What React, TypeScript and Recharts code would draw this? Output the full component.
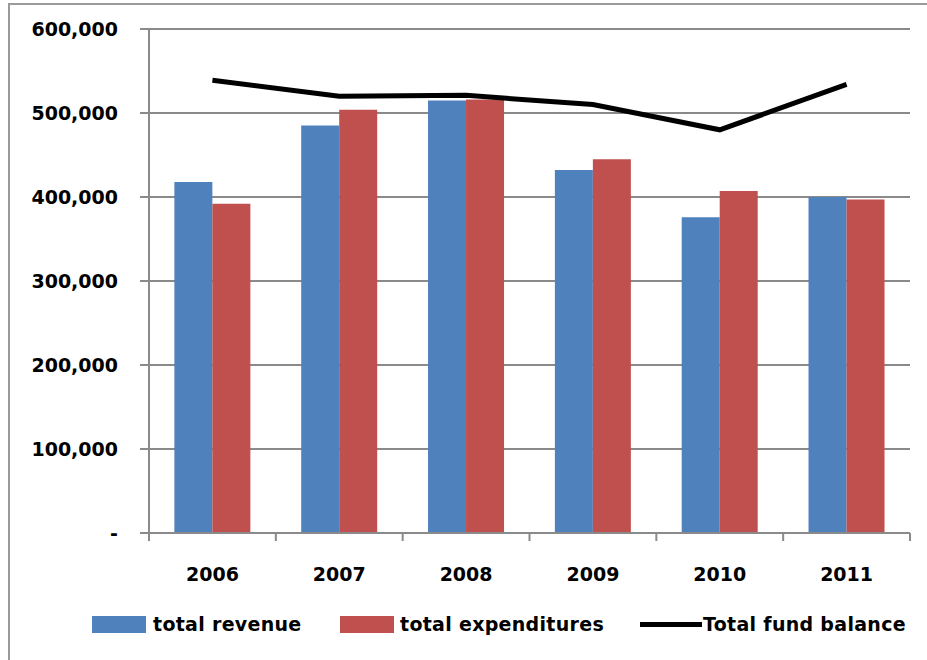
import React from "react"
import {
  ComposedChart,
  Bar,
  Line,
  XAxis,
  YAxis,
  CartesianGrid,
  Legend,
} from "recharts"

const years = ["2006", "2007", "2008", "2009", "2010", "2011"]
const totalRevenue = [418000, 485000, 515000, 432000, 376000, 400000]
const totalExpenditures = [392000, 504000, 516000, 445000, 407000, 397000]
const totalFundBalance = [539000, 520000, 521000, 510000, 480000, 534000]
const yTicks = [0, 100000, 200000, 300000, 400000, 500000, 600000]

const data = years.map((year, i) => ({
  year,
  revenue: totalRevenue[i],
  expenditures: totalExpenditures[i],
  balance: totalFundBalance[i],
}))

const W = 927
const H = 660
const LEFT = 149
const RIGHT = 17
const TOP = 29
const BOTTOM = 127
const PLOT_W = W - LEFT - RIGHT

const FONT = "'DejaVu Sans', Verdana, sans-serif"
const GRAY = "#8a8a8a"

function fmtY(v: number): string {
  if (v === 0) return "-"
  return v.toLocaleString("en-US")
}

function XTick(props: any) {
  const { x, y, payload, index } = props
  const band = PLOT_W / years.length
  const left = x - band / 2
  return (
    <g>
      <line x1={left} y1={y} x2={left} y2={y + 8} stroke={GRAY} strokeWidth={2} />
      {index === years.length - 1 && (
        <line x1={x + band / 2} y1={y} x2={x + band / 2} y2={y + 8} stroke={GRAY} strokeWidth={2} />
      )}
      <text
        x={x}
        y={y + 48}
        textAnchor="middle"
        fontFamily={FONT}
        fontWeight="bold"
        fontSize={19}
        fill="#000"
      >
        {payload.value}
      </text>
    </g>
  )
}

function LegendContent() {
  const txt = {
    fontFamily: FONT,
    fontWeight: "bold" as const,
    fontSize: 19,
    letterSpacing: 0.3,
    color: "#000",
    whiteSpace: "nowrap" as const,
    lineHeight: "22px",
  }
  return (
    <div style={{ position: "relative", height: 30, width: W }}>
      <div style={{ position: "absolute", left: 92, top: -4, width: 54, height: 17, background: "#4F81BD" }} />
      <span style={{ ...txt, position: "absolute", left: 153, top: -7 }}>total revenue</span>
      <div style={{ position: "absolute", left: 340, top: -4, width: 54, height: 17, background: "#C0504D" }} />
      <span style={{ ...txt, position: "absolute", left: 400, top: -7 }}>total expenditures</span>
      <div style={{ position: "absolute", left: 640, top: 2, width: 62, height: 5, background: "#000" }} />
      <span style={{ ...txt, position: "absolute", left: 703, top: -7 }}>Total fund balance</span>
    </div>
  )
}

export default function App() {
  return (
    <div style={{ position: "absolute", left: 0, top: 0, width: W, height: H, background: "#fff" }}>
      <div style={{ position: "absolute", left: 8, top: 3, width: W - 8, height: 2, background: "#9a9a9a" }} />
      <div style={{ position: "absolute", left: 8, top: 3, width: 2, height: H - 3, background: "#9a9a9a" }} />
      <ComposedChart
        width={W}
        height={H}
        data={data}
        margin={{ top: TOP, right: RIGHT, bottom: 0, left: 0 }}
        barCategoryGap="20%"
        barGap={0}
      >
        <CartesianGrid vertical={false} stroke={GRAY} strokeWidth={2} />
        <XAxis
          dataKey="year"
          height={BOTTOM - 40}
          axisLine={{ stroke: GRAY, strokeWidth: 2 }}
          tickLine={false}
          tickSize={0}
          tickMargin={0}
          tick={<XTick />}
          interval={0}
        />
        <YAxis
          width={LEFT}
          domain={[0, 600000]}
          ticks={yTicks}
          tickFormatter={fmtY}
          axisLine={{ stroke: GRAY, strokeWidth: 2 }}
          tickLine={{ stroke: GRAY, strokeWidth: 2 }}
          tickSize={9}
          tickMargin={22}
          tick={{ fill: "#000", fontFamily: FONT, fontWeight: "bold", fontSize: 19 }}
        />
        <Legend verticalAlign="bottom" align="left" height={40} content={<LegendContent />} />
        <Bar dataKey="revenue" name="total revenue" fill="#4F81BD" isAnimationActive={false} />
        <Bar dataKey="expenditures" name="total expenditures" fill="#C0504D" isAnimationActive={false} />
        <Line
          dataKey="balance"
          name="Total fund balance"
          stroke="#000"
          strokeWidth={5}
          dot={false}
          type="linear"
          isAnimationActive={false}
        />
      </ComposedChart>
    </div>
  )
}
